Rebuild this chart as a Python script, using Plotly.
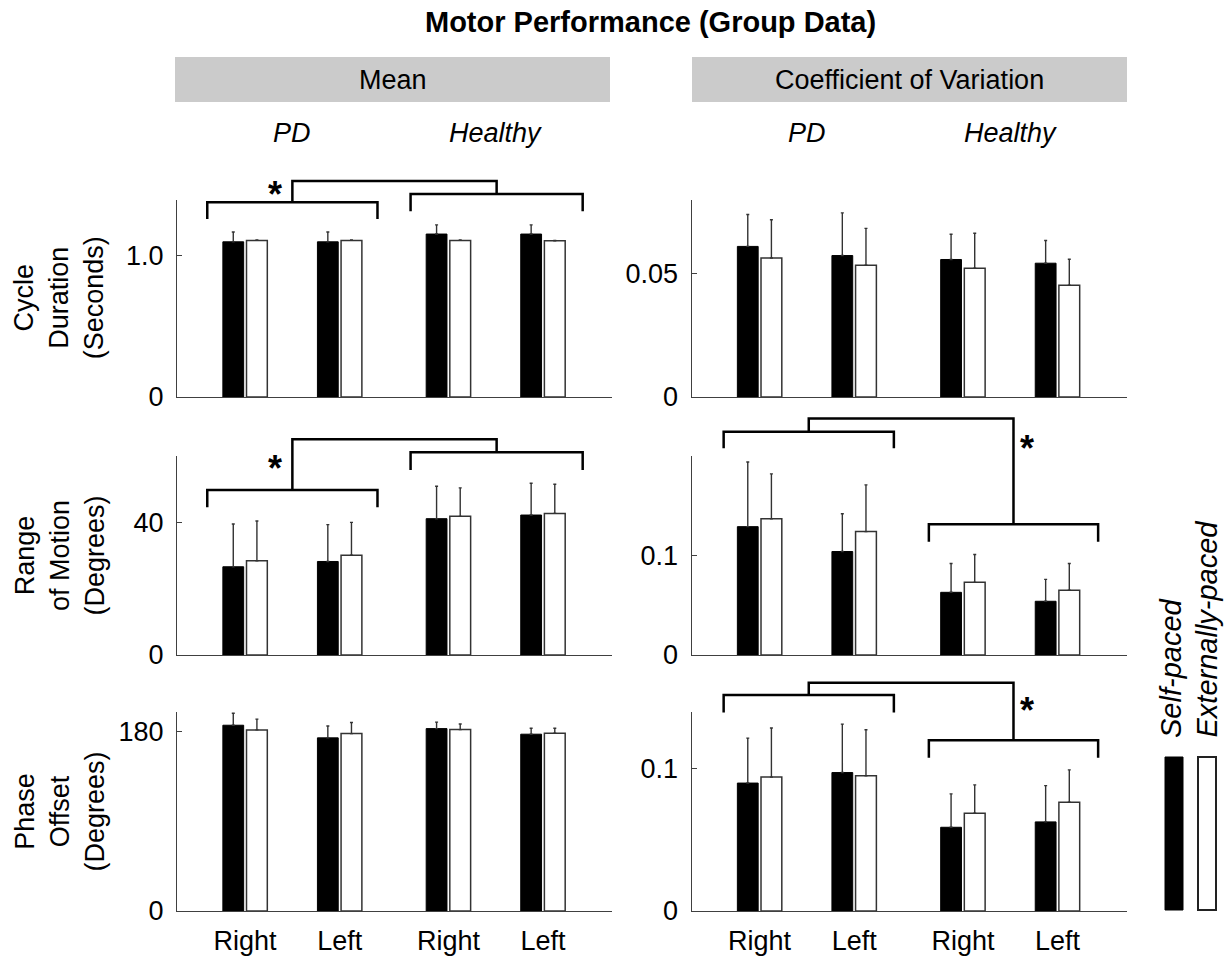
import plotly.graph_objects as go

W, H = 1232, 960
FONT = "Liberation Sans, Arial, Helvetica, sans-serif"

# ---------------- data ----------------
categories = ["Right", "Left", "Right", "Left"]
group_names = ["PD", "Healthy"]
conditions = ["Self-paced", "Externally-paced"]

cycle_mean_self = [1.10, 1.10, 1.155, 1.155]
cycle_mean_self_err = [0.07, 0.07, 0.065, 0.065]
cycle_mean_ext = [1.11, 1.11, 1.11, 1.107]
cycle_mean_ext_err = [0.003, 0.003, 0.003, 0.003]

cycle_cv_self = [0.0610, 0.0573, 0.0557, 0.0542]
cycle_cv_self_err = [0.0129, 0.0173, 0.0102, 0.0092]
cycle_cv_ext = [0.0563, 0.0534, 0.0522, 0.0453]
cycle_cv_ext_err = [0.0155, 0.0149, 0.0141, 0.0105]

rom_mean_self = [26.6, 28.2, 41.1, 42.2]
rom_mean_self_err = [12.9, 11.1, 9.8, 9.6]
rom_mean_ext = [28.4, 30.1, 41.8, 42.7]
rom_mean_ext_err = [12.0, 9.9, 8.6, 8.8]

rom_cv_self = [0.129, 0.104, 0.063, 0.054]
rom_cv_self_err = [0.065, 0.038, 0.029, 0.022]
rom_cv_ext = [0.137, 0.124, 0.073, 0.065]
rom_cv_ext_err = [0.045, 0.047, 0.028, 0.027]

phase_mean_self = [186.7, 174.0, 183.3, 177.7]
phase_mean_self_err = [12.1, 12.0, 6.5, 6.0]
phase_mean_ext = [182.0, 178.3, 182.3, 178.7]
phase_mean_ext_err = [10.8, 11.1, 5.7, 5.0]

phase_cv_self = [0.090, 0.0974, 0.0589, 0.0627]
phase_cv_self_err = [0.0316, 0.0341, 0.0235, 0.0255]
phase_cv_ext = [0.0942, 0.0951, 0.0688, 0.0765]
phase_cv_ext_err = [0.0345, 0.0324, 0.0199, 0.0228]

y_max = [1.4, 0.08, 60, 0.2, 200, 0.14]
y_tickvals = [[0, 1.0], [0, 0.05], [0, 40], [0, 0.1], [0, 180], [0, 0.1]]
y_ticktext = [["0", "1.0"], ["0", "0.05"], ["0", "40"], ["0", "0.1"], ["0", "180"], ["0", "0.1"]]
row_titles = ["Cycle<br>Duration<br>(Seconds)", "Range<br>of Motion<br>(Degrees)", "Phase<br>Offset<br>(Degrees)"]
col_titles = ["Mean", "Coefficient of Variation"]
title_text = "Motor Performance (Group Data)"

panels = [
    (cycle_mean_self, cycle_mean_self_err, cycle_mean_ext, cycle_mean_ext_err),
    (cycle_cv_self, cycle_cv_self_err, cycle_cv_ext, cycle_cv_ext_err),
    (rom_mean_self, rom_mean_self_err, rom_mean_ext, rom_mean_ext_err),
    (rom_cv_self, rom_cv_self_err, rom_cv_ext, rom_cv_ext_err),
    (phase_mean_self, phase_mean_self_err, phase_mean_ext, phase_mean_ext_err),
    (phase_cv_self, phase_cv_self_err, phase_cv_ext, phase_cv_ext_err),
]

# ---------------- layout geometry ----------------
group_pos = [1, 2, 3.15, 4.15]
x_range = [0.28, 4.88]
bar_shift = 0.125
bar_width = 0.22
col_px = [(177, 612), (691.5, 1126.5)]
row_px = [(199.5, 397), (456, 655), (712, 911)]

# significance brackets: panel -> (left span, left y, left leg), (right span, right y, right leg), top y, star (x, y)
brackets = {
    0: dict(left=(0.60, 2.40, 0.986, 0.901), right=(2.75, 4.57, 1.028, 0.940), top=1.094, star=(1.317, 1.073)),
    2: dict(left=(0.60, 2.40, 0.829, 0.742), right=(2.75, 4.57, 1.019, 0.930), top=1.084, star=(1.317, 0.980)),
    3: dict(left=(0.62, 2.42, 1.122, 1.039), right=(2.79, 4.58, 0.657, 0.569), top=1.189, star=(3.833, 1.084)),
    5: dict(left=(0.62, 2.42, 1.085, 0.998), right=(2.79, 4.58, 0.858, 0.770), top=1.147, star=(3.833, 1.052)),
}

AX_COLOR = "#404040"
fig = go.Figure()
layout = dict(
    width=W, height=H, autosize=False,
    margin=dict(l=0, r=0, t=0, b=0, pad=0, autoexpand=False),
    paper_bgcolor="white", plot_bgcolor="white",
    showlegend=False, barmode="overlay",
    font=dict(family=FONT, color="black", size=27),
)
shapes = []
annotations = []


def px_x(p):
    return p / W


def px_y(p):
    return 1 - p / H


for k, (s, se, e, ee) in enumerate(panels):
    r, c = divmod(k, 2)
    xa = "x" if k == 0 else f"x{k+1}"
    ya = "y" if k == 0 else f"y{k+1}"
    fig.add_trace(go.Bar(
        x=[p - bar_shift for p in group_pos], y=s, width=bar_width,
        marker=dict(color="black", line=dict(color="black", width=1)),
        error_y=dict(type="data", array=se, arrayminus=[0] * len(se), symmetric=False,
                     color="#333333", thickness=1.4, width=1.5),
        xaxis=xa, yaxis=ya, name=conditions[0],
    ))
    fig.add_trace(go.Bar(
        x=[p + bar_shift for p in group_pos], y=e, width=bar_width,
        marker=dict(color="white", line=dict(color="#333333", width=1.5)),
        error_y=dict(type="data", array=ee, arrayminus=[0] * len(ee), symmetric=False,
                     color="#333333", thickness=1.4, width=1.5),
        xaxis=xa, yaxis=ya, name=conditions[1],
    ))
    key = "" if k == 0 else str(k + 1)
    layout["xaxis" + key] = dict(
        domain=[px_x(col_px[c][0]), px_x(col_px[c][1])], range=x_range, anchor=ya,
        showline=True, linecolor=AX_COLOR, linewidth=1, ticks="",
        tickvals=group_pos, ticktext=categories, showticklabels=(r == 2),
        showgrid=False, zeroline=False, tickfont=dict(size=27, color="black"),
        ticklabelstandoff=6, fixedrange=True, automargin=False,
    )
    layout["yaxis" + key] = dict(
        domain=[px_y(row_px[r][1]), px_y(row_px[r][0])], range=[0, y_max[k]], anchor=xa,
        showline=True, linecolor=AX_COLOR, linewidth=1, ticks="inside", ticklen=5,
        tickcolor=AX_COLOR, tickvals=y_tickvals[k], ticktext=y_ticktext[k],
        showgrid=False, zeroline=False, tickfont=dict(size=27, color="black"),
        ticklabelstandoff=7, fixedrange=True, automargin=False,
    )

    if k in brackets:
        b = brackets[k]
        x0, x1, yh, yl = b["left"]
        X0, X1, YH, YL = b["right"]
        mid_l = (x0 + x1) / 2
        mid_r = (X0 + X1) / 2
        yref = f"{ya} domain"
        for path in (
            f"M{x0},{yl} L{x0},{yh} L{x1},{yh} L{x1},{yl}",
            f"M{X0},{YL} L{X0},{YH} L{X1},{YH} L{X1},{YL}",
            f"M{mid_l},{yh} L{mid_l},{b['top']} L{mid_r},{b['top']} L{mid_r},{YH}",
        ):
            shapes.append(dict(type="path", path=path, xref=xa, yref=yref,
                               line=dict(color="black", width=2.5), layer="above"))
        sx, sy = b["star"]
        annotations.append(dict(text="<b>*</b>", x=sx, y=sy, xref=xa, yref=yref,
                                showarrow=False, xanchor="center", yanchor="middle",
                                yshift=-9, font=dict(size=36, color="black")))

    if r == 0:
        # group labels PD / Healthy
        for gi, gname in enumerate(group_names):
            gx = (group_pos[2 * gi] + group_pos[2 * gi + 1]) / 2
            annotations.append(dict(text=f"<i>{gname}</i>", x=gx, y=px_y(133), xref=xa, yref="paper",
                                    showarrow=False, xanchor="center", yanchor="middle",
                                    font=dict(size=27, color="black")))

# column header boxes
hdr_px = [(175, 610), (692, 1127)]
for c, (a, bpx) in enumerate(hdr_px):
    shapes.append(dict(type="rect", xref="paper", yref="paper",
                       x0=px_x(a), x1=px_x(bpx), y0=px_y(102), y1=px_y(57),
                       fillcolor="#cbcbcb", line=dict(width=0), layer="below"))
    annotations.append(dict(text=col_titles[c], x=px_x((a + bpx) / 2), y=px_y(80),
                            xref="paper", yref="paper", showarrow=False,
                            xanchor="center", yanchor="middle", font=dict(size=27, color="black")))

# row titles
for r, t in enumerate(row_titles):
    cy = (row_px[r][0] + row_px[r][1]) / 2
    annotations.append(dict(text=t, x=px_x(59), y=px_y(cy), xref="paper", yref="paper",
                            textangle=-90, showarrow=False, xanchor="center", yanchor="middle",
                            font=dict(size=27, color="black")))

# main title
annotations.append(dict(text=f"<b>{title_text}</b>", x=px_x(650), y=px_y(22), xref="paper", yref="paper",
                        showarrow=False, xanchor="center", yanchor="middle",
                        font=dict(size=29, color="black")))

# legend
shapes.append(dict(type="rect", xref="paper", yref="paper", x0=px_x(1165), x1=px_x(1183),
                   y0=px_y(910), y1=px_y(757), fillcolor="black", line=dict(color="black", width=1)))
shapes.append(dict(type="rect", xref="paper", yref="paper", x0=px_x(1198), x1=px_x(1216),
                   y0=px_y(910), y1=px_y(757), fillcolor="white", line=dict(color="#222222", width=2)))
for cx, lbl in ((1171, conditions[0]), (1206, conditions[1])):
    annotations.append(dict(text=f"<i>{lbl}</i>", x=px_x(cx), y=px_y(740), xref="paper", yref="paper",
                            textangle=-90, showarrow=False, xanchor="center", yanchor="bottom",
                            font=dict(size=29, color="black")))

layout["shapes"] = shapes
layout["annotations"] = annotations
fig.update_layout(**layout)

fig.write_html("out.html", config={"displayModeBar": False},
               post_script="document.body.style.margin='0px';")
